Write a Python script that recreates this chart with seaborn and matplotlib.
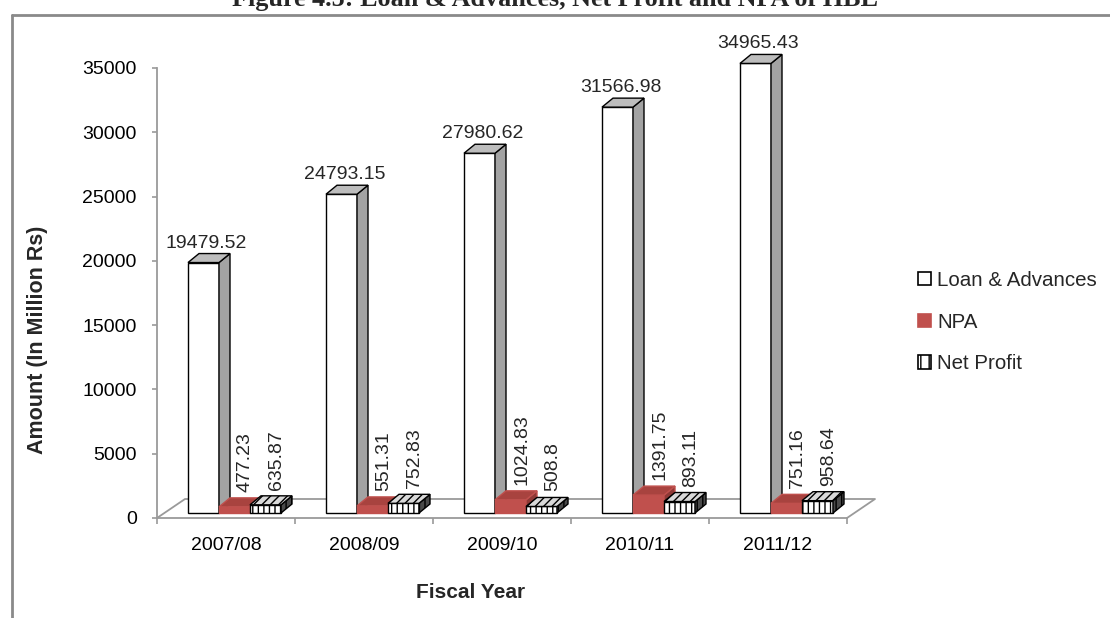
import numpy as np
import pandas as pd
import matplotlib
matplotlib.use("Agg")
import matplotlib.pyplot as plt
import matplotlib.transforms as mtransforms
from matplotlib.patches import Polygon, Patch
from matplotlib.lines import Line2D
import seaborn as sns

# ---- data -------------------------------------------------------------
years = ["2007/08", "2008/09", "2009/10", "2010/11", "2011/12"]
loan_advances = [19479.52, 24793.15, 27980.62, 31566.98, 34965.43]
npa = [477.23, 551.31, 1024.83, 1391.75, 751.16]
net_profit = [635.87, 752.83, 508.8, 893.11, 958.64]
series_names = ["Loan & Advances", "NPA", "Net Profit"]
y_ticks = [0, 5000, 10000, 15000, 20000, 25000, 30000, 35000]

df = pd.DataFrame({
    "Fiscal Year": years * 3,
    "Series": np.repeat(series_names, len(years)),
    "Amount": loan_advances + npa + net_profit,
})

# ---- styling ----------------------------------------------------------
W, H, DPI = 1110, 618, 100
sns.set_style("white")
plt.rcParams["font.family"] = ["Liberation Sans", "DejaVu Sans"]
plt.rcParams["hatch.linewidth"] = 1.0

GRID = "#9A9A9A"
FS = 14

front_col = {"Loan & Advances": "white", "NPA": "#C0504D", "Net Profit": "white"}
edge_col = {"Loan & Advances": "black", "NPA": "#C0504D", "Net Profit": "black"}
top_col = {"Loan & Advances": "#BDBDBD", "NPA": "#A8433F", "Net Profit": "#D9D9D9"}
side_col = {"Loan & Advances": "#A3A3A3", "NPA": "#8E3936", "Net Profit": "#4A4A4A"}
hatch = {"Loan & Advances": None, "NPA": None, "Net Profit": "|||"}
top_hatch = {"Loan & Advances": None, "NPA": None, "Net Profit": "////"}

# pixel offsets used for the pseudo-3D look
PLANE = (8.5, 5.0)     # bar front plane, set back into the floor
DEPTH = (11.0, 9.0)    # depth of each column
FLOOR = (28.0, 19.0)   # depth of the floor

fig = plt.figure(figsize=(W / DPI, H / DPI), dpi=DPI)
fig.patch.set_facecolor("white")
ax = fig.add_axes([157 / W, 1 - 518 / H, 690 / W, 450 / H])

sns.barplot(data=df, x="Fiscal Year", y="Amount", hue="Series",
            order=years, hue_order=series_names,
            palette=[front_col[s] for s in series_names],
            width=0.674, saturation=1, legend=False, ax=ax)

ax.set_xlim(-0.5, len(years) - 0.5)
ax.set_ylim(0, y_ticks[-1])
ax.set_facecolor("white")

plane_tr = mtransforms.offset_copy(ax.transData, fig=fig,
                                   x=PLANE[0], y=PLANE[1], units="dots")
ident = mtransforms.IdentityTransform()


def fmt(v):
    return ("%.2f" % v).rstrip("0").rstrip(".")


for j, (cont, name) in enumerate(zip(ax.containers, series_names)):
    z = 3 + j
    for bar, val in zip(cont.patches, cont.datavalues):
        bar.set_transform(plane_tr)
        bar.set_clip_on(False)
        bar.set_facecolor(front_col[name])
        bar.set_edgecolor(edge_col[name])
        bar.set_linewidth(1.0)
        bar.set_zorder(z)
        if hatch[name]:
            bar.set_hatch(hatch[name])

        x0, x1 = bar.get_x(), bar.get_x() + bar.get_width()
        (X0, Yb), (X1, Yt) = ax.transData.transform([(x0, 0), (x1, val)])
        X0 += PLANE[0]; X1 += PLANE[0]; Yb += PLANE[1]; Yt += PLANE[1]
        dx, dy = DEPTH

        top = Polygon([(X0, Yt), (X1, Yt), (X1 + dx, Yt + dy), (X0 + dx, Yt + dy)],
                      closed=True, transform=ident, facecolor=top_col[name],
                      edgecolor=edge_col[name], linewidth=1.0, zorder=z,
                      hatch=top_hatch[name], clip_on=False)
        side = Polygon([(X1, Yb), (X1 + dx, Yb + dy), (X1 + dx, Yt + dy), (X1, Yt)],
                       closed=True, transform=ident, facecolor=side_col[name],
                       edgecolor=edge_col[name], linewidth=1.0, zorder=z,
                       hatch=hatch[name], clip_on=False)
        ax.add_artist(side)
        ax.add_artist(top)

        cx = (x0 + x1) / 2
        if name == "Loan & Advances":
            ax.annotate(fmt(val), xy=(cx, val), xycoords="data",
                        xytext=(PLANE[0] + 3, PLANE[1] + 15),
                        textcoords="offset pixels", ha="center", va="baseline",
                        fontsize=FS, annotation_clip=False, zorder=10)
        else:
            ax.annotate(fmt(val), xy=(cx, val), xycoords="data",
                        xytext=(PLANE[0] + 11, PLANE[1] + 15),
                        textcoords="offset pixels", ha="center", va="bottom",
                        rotation=90, fontsize=FS, annotation_clip=False, zorder=10)

# ---- floor ------------------------------------------------------------
(Ax, Ay), (Bx, By) = ax.transData.transform([(-0.5, 0), (len(years) - 0.5, 0)])
fx, fy = FLOOR
floor = Line2D([Ax, Ax + fx, Bx + fx, Bx], [Ay, Ay + fy, By + fy, By],
               transform=ident, color=GRID, linewidth=1.3, zorder=1,
               clip_on=False)
ax.add_artist(floor)

# ---- axes -------------------------------------------------------------
for s in ("top", "right"):
    ax.spines[s].set_visible(False)
for s in ("left", "bottom"):
    ax.spines[s].set_color(GRID)
    ax.spines[s].set_linewidth(1.3)
ax.spines["left"].set_bounds(0, y_ticks[-1])

ax.set_yticks(y_ticks)
ax.set_yticklabels([str(t) for t in y_ticks])
ax.tick_params(axis="y", direction="out", length=3.6, width=1.2, color=GRID,
               pad=11, labelsize=FS, labelcolor="black", left=True)

ax.set_xticks(range(len(years)))
ax.set_xticklabels(years)
ax.set_xticks(np.arange(-0.5, len(years)), minor=True)
ax.tick_params(axis="x", which="major", length=0, pad=13.5, labelsize=FS,
               labelcolor="black")
ax.tick_params(axis="x", which="minor", direction="out", length=4.3, width=1.2,
               color=GRID, bottom=True)

ax.set_xlabel("Fiscal Year", fontsize=15, fontweight="bold", va="center")
ax.xaxis.set_label_coords((471 - 157) / 690, (518 - 592) / 450)
ax.set_ylabel("Amount (In Million Rs)", fontsize=15.5, fontweight="bold",
              va="center")
ax.yaxis.set_label_coords((38 - 157) / 690, (518 - 340) / 450)

# ---- legend -----------------------------------------------------------
handles = [Patch(facecolor=front_col[s], edgecolor=edge_col[s],
                 hatch=("||" if hatch[s] else None), linewidth=1.2)
           for s in series_names]
fig.legend(handles, series_names, loc="upper left",
           bbox_to_anchor=(918 / W, 1 - 271 / H), frameon=False,
           fontsize=14.8, handlelength=0.62, handleheight=0.62,
           handletextpad=0.3, labelspacing=1.1, borderpad=0,
           borderaxespad=0)

# ---- caption and outer frame -----------------------------------------
fig.text(0.5, 1 - 6 / H, "Figure 4.5: Loan & Advances, Net Profit and NPA of HBL",
         ha="center", va="baseline", fontsize=18.8, fontweight="bold",
         family=["Liberation Serif", "DejaVu Serif"])
fig.add_artist(Line2D([12 / W, 1], [1 - 15 / H, 1 - 15 / H],
                      transform=fig.transFigure, color="#8A8A8A", linewidth=2))
fig.add_artist(Line2D([12 / W, 12 / W], [1 - 15 / H, 0],
                      transform=fig.transFigure, color="#8A8A8A", linewidth=2))

fig.savefig("out.png", dpi=DPI)
